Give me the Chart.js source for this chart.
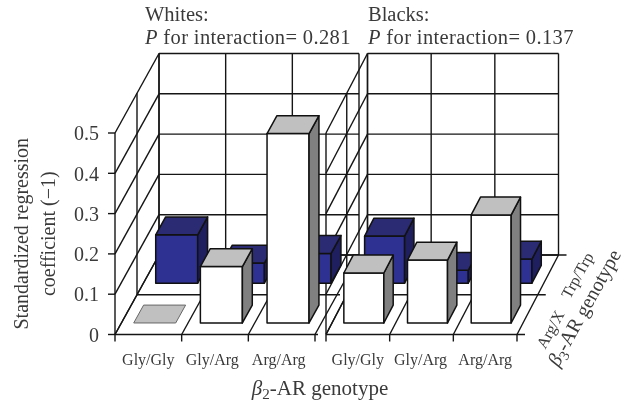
<!DOCTYPE html>
<html>
<head>
<meta charset="utf-8">
<style>
html, body { margin: 0; padding: 0; background: #fff; }
canvas { display: block; }
</style>
<script src="https://cdn.jsdelivr.net/npm/chart.js@4/dist/chart.umd.js"></script>
</head>
<body>
<div style="width:627px;height:404px"><canvas id="chart3d" width="627" height="404"></canvas></div>
<script>
// values
const categories = ['Gly/Gly', 'Gly/Arg', 'Arg/Arg'];
const depthLabels = ['Arg/X', 'Trp/Trp'];
const yTicks = [0, 0.1, 0.2, 0.3, 0.4, 0.5];
const whitesArgX = [0, 0.14, 0.47];
const whitesTrpTrp = [0.12, 0.05, 0.074];
const blacksArgX = [0.124, 0.156, 0.268];
const blacksTrpTrp = [0.117, 0.032, 0.06];

// x axis runs in whites category widths, the blacks panel is a bit narrower
const panels = {
    whites: { start: 0, catWidth: 1, barPx: 42, depthX: 44, labelShift: [0, -0.04, -0.045] },
    blacks: { start: 3.165, catWidth: 0.955, barPx: 40, depthX: 41.5, labelShift: [0, -0.015, 0] }
};
const X_MAX = 6.03;

// oblique projection of the floor
const DEPTH_Y = -79.5;
const BAR_FROM = 0.29, BAR_DEPTH = 0.45;
const TEXT = '#3a3a3a', LINE = '#151515', SERIF = '"Liberation Serif"';

const blueBar = { front: '#2e3192', top: '#2b2b73', side: '#1f1f5f' };
const whiteBar = { front: '#ffffff', top: '#c0c0c0', side: '#808080' };

const centres = p => categories.map((c, i) => p.start + p.catWidth * (i + 0.5));
const edges = p => [0, 1, 2, 3].map(i => p.start + p.catWidth * i);
const labelAt = p => centres(p).map((v, i) => v + p.labelShift[i]);
const tickValues = [...labelAt(panels.whites), ...labelAt(panels.blacks)];
const points = (p, vals) => vals.map((v, i) => ({ x: centres(p)[i], y: v }));

class Bar3DElement extends Chart.BarElement {
    draw(ctx) {
        const { x, y, base, width } = this.getProps(['x', 'y', 'base', 'width']);
        const o = this.options;
        const ox = o.depthX / 2 * (o.row + BAR_FROM), oy = DEPTH_Y / 2 * (o.row + BAR_FROM);
        const dx = o.depthX / 2 * BAR_DEPTH, dy = DEPTH_Y / 2 * BAR_DEPTH;
        const l = x - width / 2 + ox, r = l + width, t = y + oy, b = base + oy;
        const c = o.backgroundColor === blueBar.front ? blueBar : whiteBar;
        const flat = b - t <= 0.5;
        const poly = (pts, fill) => {
            ctx.beginPath();
            pts.forEach((q, i) => i ? ctx.lineTo(q[0], q[1]) : ctx.moveTo(q[0], q[1]));
            ctx.closePath();
            ctx.fillStyle = fill;
            ctx.fill();
            ctx.stroke();
        };
        ctx.save();
        ctx.strokeStyle = flat ? '#666' : '#111';
        ctx.lineWidth = flat ? 1 : 1.5;
        ctx.lineJoin = 'round';
        if (!flat) {
            poly([[l, t], [r, t], [r, b], [l, b]], c.front);
            poly([[r, t], [r + dx, t + dy], [r + dx, b + dy], [r, b]], c.side);
        }
        poly([[l, t], [r, t], [r + dx, t + dy], [l + dx, t + dy]], c.top);
        ctx.restore();
    }
}
Bar3DElement.id = 'bar3d';
Bar3DElement.defaults = Object.assign({}, Chart.BarElement.defaults, { row: 0, depthX: 44 });

class Bar3DController extends Chart.BarController {}
Bar3DController.id = 'bar3d';
Bar3DController.defaults = Object.assign({}, Chart.BarController.defaults, { dataElementType: 'bar3d' });
Bar3DController.overrides = Chart.BarController.overrides;
Chart.register(Bar3DElement, Bar3DController);

function seg(ctx, x1, y1, x2, y2) {
    ctx.beginPath();
    ctx.moveTo(x1, y1);
    ctx.lineTo(x2, y2);
    ctx.stroke();
}

// walls and floor of one panel, all taken from the scales
function drawPanel(ctx, xs, ys, p, isFirst) {
    const px = edges(p).map(v => xs.getPixelForValue(v));
    const y0 = ys.getPixelForValue(0), yTop = ys.getPixelForValue(0.5);
    const xL = px[0], xR = px[3], dX = p.depthX;
    ctx.strokeStyle = LINE;
    ctx.lineWidth = 1.4;
    // back wall
    yTicks.forEach(v => {
        const y = ys.getPixelForValue(v) + DEPTH_Y;
        seg(ctx, xL + dX, y, xR + dX, y);
    });
    px.forEach(x => seg(ctx, x + dX, yTop + DEPTH_Y, x + dX, y0 + DEPTH_Y));
    // left wall
    yTicks.forEach(v => {
        const y = ys.getPixelForValue(v);
        seg(ctx, xL, y, xL + dX, y + DEPTH_Y);
        if (isFirst) seg(ctx, xL - 7, y, xL, y);
    });
    [0, 0.5, 1].forEach(f => seg(ctx, xL + dX * f, yTop + DEPTH_Y * f, xL + dX * f, y0 + DEPTH_Y * f));
    // floor
    px.forEach(x => {
        seg(ctx, x, y0, x + dX, y0 + DEPTH_Y);
        seg(ctx, x, y0, x, y0 + 7);
    });
    const ext = isFirst ? 3 : 8;
    [0, 0.5, 1].forEach(f => seg(ctx, xL + dX * f, y0 + DEPTH_Y * f, xR + dX * f + (f === 1 && isFirst ? 0 : ext), y0 + DEPTH_Y * f));
}

// text with mixed italic / subscript parts, starting at x,y (or centred)
function runs(ctx, parts, x, y, size, angle, centre, spacing) {
    const fontOf = q => (q.i ? 'italic ' : '') + (q.sub ? size * 0.72 : size) + 'px ' + SERIF;
    ctx.save();
    ctx.letterSpacing = (spacing || 0) + 'px';
    let w = 0;
    parts.forEach(q => { ctx.font = fontOf(q); w += ctx.measureText(q.t).width; });
    ctx.translate(x, y);
    ctx.rotate(angle || 0);
    ctx.textAlign = 'left';
    ctx.textBaseline = 'alphabetic';
    ctx.fillStyle = TEXT;
    let cur = centre ? -w / 2 : 0;
    parts.forEach(q => {
        ctx.font = fontOf(q);
        ctx.fillText(q.t, cur, q.sub ? size * 0.2 : 0);
        cur += ctx.measureText(q.t).width;
    });
    ctx.restore();
}

const scene = {
    id: 'scene',
    beforeDatasetsDraw(chart) {
        const { ctx, scales } = chart;
        ctx.save();
        drawPanel(ctx, scales.x, scales.y, panels.whites, true);
        drawPanel(ctx, scales.x, scales.y, panels.blacks, false);
        ctx.restore();
    },
    afterDraw(chart) {
        const { ctx } = chart;
        const size = 20.5;
        ctx.save();
        runs(ctx, [{ t: 'Whites:' }], 145, 21, size);
        runs(ctx, [{ t: 'P', i: true }, { t: ' for interaction= 0.281' }], 145, 44, size, 0, false, 0.36);
        runs(ctx, [{ t: 'Blacks:' }], 368, 21, size);
        runs(ctx, [{ t: 'P', i: true }, { t: ' for interaction= 0.137' }], 368, 44, size, 0, false, 0.36);
        runs(ctx, [{ t: 'β', i: true }, { t: '2', sub: true }, { t: '-AR genotype' }], 320, 395, 21, 0, true);
        const a = -Math.PI / 180 * 61;
        runs(ctx, [{ t: depthLabels[0] }], 555, 332, 16, a, true);
        runs(ctx, [{ t: depthLabels[1] }], 582, 278, 16, a, true);
        runs(ctx, [{ t: 'β', i: true }, { t: '3', sub: true }, { t: '-AR genotype' }], 590, 311, 20, a, true);
        ctx.restore();
    }
};

new Chart(document.getElementById('chart3d').getContext('2d'), {
    type: 'bar3d',
    data: {
        datasets: [
            { label: 'Whites Arg/X', data: points(panels.whites, whitesArgX), barThickness: panels.whites.barPx, backgroundColor: whiteBar.front, row: 0, depthX: panels.whites.depthX, clip: false },
            { label: 'Blacks Arg/X', data: points(panels.blacks, blacksArgX), barThickness: panels.blacks.barPx, backgroundColor: whiteBar.front, row: 0, depthX: panels.blacks.depthX, clip: false },
            { label: 'Whites Trp/Trp', data: points(panels.whites, whitesTrpTrp), barThickness: panels.whites.barPx, backgroundColor: blueBar.front, row: 1, depthX: panels.whites.depthX, clip: false },
            { label: 'Blacks Trp/Trp', data: points(panels.blacks, blacksTrpTrp), barThickness: panels.blacks.barPx, backgroundColor: blueBar.front, row: 1, depthX: panels.blacks.depthX, clip: false }
        ]
    },
    options: {
        responsive: false,
        animation: false,
        grouped: false,
        layout: { padding: { top: 133, right: 110, left: 0, bottom: 0 } },
        plugins: { legend: { display: false }, tooltip: { enabled: false } },
        scales: {
            x: {
                type: 'linear',
                min: 0,
                max: X_MAX,
                offset: false,
                grid: { display: false },
                border: { display: false },
                afterBuildTicks: s => { s.ticks = tickValues.map(v => ({ value: v })); },
                afterFit: s => { s.height = 69.5; },
                ticks: {
                    autoSkip: false,
                    maxRotation: 0,
                    padding: 9,
                    color: TEXT,
                    font: { family: SERIF, size: 16 },
                    callback: (v, i) => categories[i % 3]
                }
            },
            y: {
                min: 0,
                max: 0.5,
                grid: { display: false },
                border: { display: false },
                afterFit: s => { s.width = 115; },
                ticks: {
                    stepSize: 0.1,
                    padding: 8,
                    labelOffset: 2,
                    color: TEXT,
                    font: { family: SERIF, size: 20 },
                    callback: v => (v === 0 ? '0' : v.toFixed(1))
                },
                title: {
                    display: true,
                    text: ['Standardized regression', 'coefficient (−1)'],
                    color: TEXT,
                    font: { family: SERIF, size: 20, lineHeight: 1.35 },
                    padding: { top: 9, bottom: 0 }
                }
            }
        }
    },
    plugins: [scene]
});
</script>
</body>
</html>
